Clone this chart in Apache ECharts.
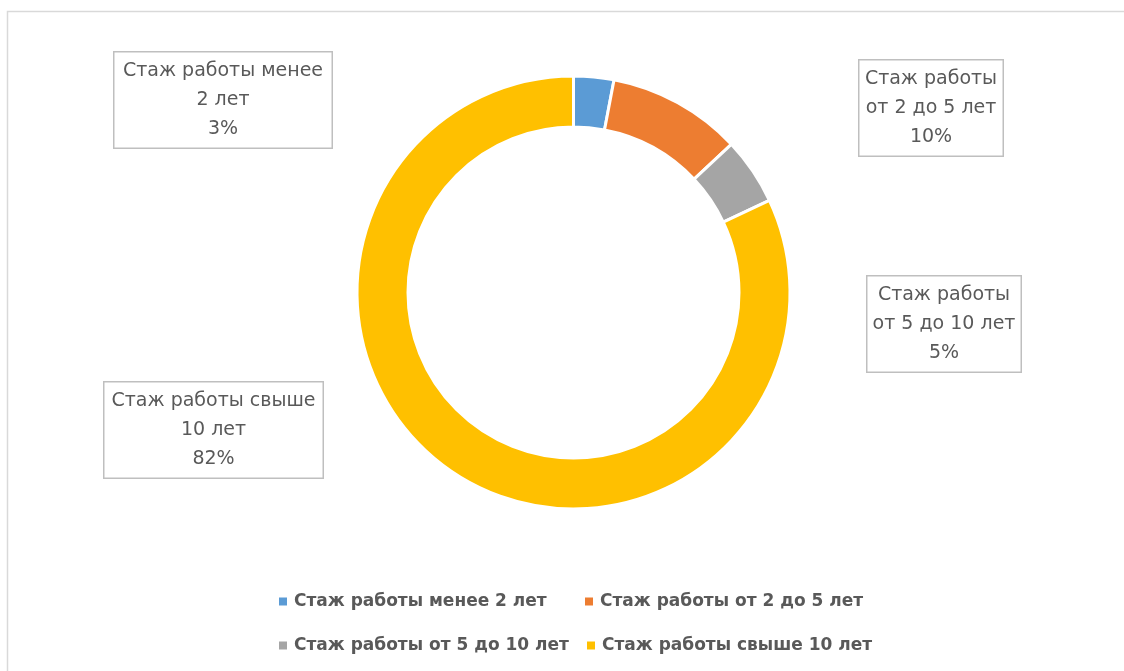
<!DOCTYPE html>
<html>
<head>
<meta charset="utf-8">
<script src="https://cdn.jsdelivr.net/npm/echarts@6/dist/echarts.min.js"></script>
<style>
html,body{margin:0;padding:0;background:#fff;}
#chart{width:1124px;height:671px;}
</style>
</head>
<body>
<div id="chart"></div>
<script>
// ---- data ----
const categories = [
  'Стаж работы менее 2 лет',
  'Стаж работы от 2 до 5 лет',
  'Стаж работы от 5 до 10 лет',
  'Стаж работы свыше 10 лет'
];
const values = [3, 10, 5, 82];
const labelLines = [
  ['Стаж работы менее', '2 лет'],
  ['Стаж работы', 'от 2 до 5 лет'],
  ['Стаж работы', 'от 5 до 10 лет'],
  ['Стаж работы свыше', '10 лет']
];

// ---- styles / layout ----
const colors = ['#5B9BD5', '#ED7D31', '#A5A5A5', '#FFC000'];
const labelCenters = [[223, 100], [931, 108], [944, 324], [213.5, 430]];
const labelBoxWidths = [220, 146, 156, 221];
const legendPos = [[277, 593], [583, 593], [277, 637], [585, 637]];

const chart = echarts.init(document.getElementById('chart'), null, {renderer: 'canvas'});

const total = values.reduce((a, b) => a + b, 0);

const seriesData = categories.map((name, i) => ({
  name: name,
  value: values[i],
  itemStyle: {color: colors[i]},
  label: {width: labelBoxWidths[i] - 3}
}));

const legends = categories.map((name, i) => ({
  data: [name],
  left: legendPos[i][0],
  top: legendPos[i][1],
  padding: 0,
  icon: 'rect',
  itemWidth: 10,
  itemHeight: 10,
  selectedMode: false,
  textStyle: {
    fontFamily: 'DejaVu Sans',
    fontWeight: 'bold',
    fontSize: 17,
    color: '#595959',
    padding: [0, 0, 0, 1]
  }
}));

chart.setOption({
  animation: false,
  backgroundColor: '#ffffff',
  graphic: [{
    type: 'rect',
    shape: {x: 7.5, y: 11.5, width: 1300, height: 800},
    style: {fill: 'none', stroke: '#d9d9d9', lineWidth: 1.5},
    silent: true
  }],
  legend: legends,
  series: [{
    type: 'pie',
    center: [573.5, 292.5],
    radius: [165.5, 216.5],
    startAngle: 90,
    clockwise: true,
    avoidLabelOverlap: false,
    itemStyle: {borderColor: '#ffffff', borderWidth: 3},
    emphasis: {disabled: true},
    labelLine: {show: false},
    label: {
      show: true,
      position: 'outside',
      fontFamily: 'DejaVu Sans',
      fontSize: 19,
      lineHeight: 29,
      color: '#595959',
      align: 'center',
      backgroundColor: '#ffffff',
      borderColor: '#bfbfbf',
      borderWidth: 1.5,
      padding: [5, 0, 3, 0],
      formatter: function (p) {
        const pct = Math.round(p.value / total * 100) + '%';
        return labelLines[p.dataIndex].join('\n') + '\n' + pct;
      }
    },
    labelLayout: function (params) {
      const c = labelCenters[params.dataIndex];
      return {x: c[0], y: c[1], align: 'center', verticalAlign: 'middle'};
    },
    data: seriesData
  }]
});
</script>
</body>
</html>
